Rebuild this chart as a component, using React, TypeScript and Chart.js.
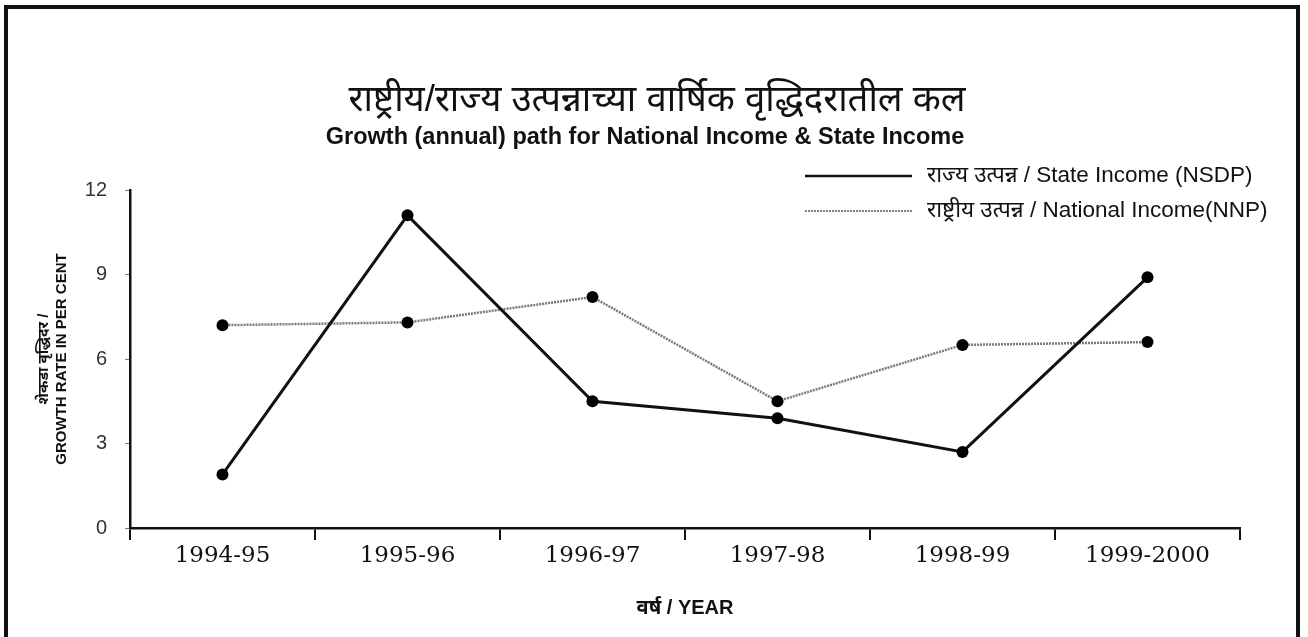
import React, { useEffect, useRef } from "react";
import { Chart, registerables } from "chart.js";

Chart.register(...registerables);

// ---- data ----
const categories = ["1994-95", "1995-96", "1996-97", "1997-98", "1998-99", "1999-2000"];
const stateIncome = [1.9, 11.1, 4.5, 3.9, 2.7, 8.9];
const nationalIncome = [7.2, 7.3, 8.2, 4.5, 6.5, 6.6];
const yTickValues = [0, 3, 6, 9, 12];

const titleText = "राष्ट्रीय/राज्य उत्पन्नाच्या वार्षिक वृद्धिदरातील कल";
const subtitleText = "Growth (annual) path for National Income & State Income";
const seriesLabels = [
  "राज्य उत्पन्न / State Income (NSDP)",
  "राष्ट्रीय उत्पन्न / National Income(NNP)",
];
const yTitleLines = ["शेकडा वृद्धिदर /", "GROWTH RATE IN PER CENT"];
const xTitleText = "वर्ष / YEAR";

const SANS = '"Liberation Sans", Arial, "Noto Sans", sans-serif';
const SERIF = '"DejaVu Serif", "Liberation Serif", serif';

const headingsPlugin = {
  id: "headings",
  afterDraw(chart: any) {
    const ctx = chart.ctx as CanvasRenderingContext2D;
    ctx.save();
    ctx.textBaseline = "middle";
    ctx.textAlign = "center";
    ctx.fillStyle = "#111";
    ctx.font = `normal 36.5px ${SANS}`;
    ctx.fillText(titleText, 657, 101);
    ctx.font = `bold 23.5px ${SANS}`;
    ctx.fillText(subtitleText, 645, 138);

    // legend
    const rows = [176, 211];
    chart.data.datasets.forEach((ds: any, i: number) => {
      const y = rows[i];
      ctx.save();
      ctx.strokeStyle = i === 0 ? "#111" : "#555";
      ctx.lineWidth = i === 0 ? 2.5 : 1.5;
      ctx.setLineDash(ds.borderDash || []);
      ctx.beginPath();
      ctx.moveTo(805, y);
      ctx.lineTo(912, y);
      ctx.stroke();
      ctx.restore();
      ctx.textAlign = "left";
      ctx.fillStyle = "#111";
      ctx.font = `normal 22.5px ${SANS}`;
      ctx.fillText(ds.label, 927, y);
    });
    ctx.restore();
  },
};

export default function App() {
  const canvasRef = useRef<HTMLCanvasElement | null>(null);

  useEffect(() => {
    const canvas = canvasRef.current;
    if (!canvas) return;
    const chart = new Chart(canvas, {
      type: "line",
      data: {
        labels: categories,
        datasets: [
          {
            label: seriesLabels[0],
            data: stateIncome,
            borderColor: "#111",
            borderWidth: 3,
            pointRadius: 6,
            pointBackgroundColor: "#000",
            pointBorderColor: "#000",
            pointBorderWidth: 0,
            tension: 0,
            fill: false,
          },
          {
            label: seriesLabels[1],
            data: nationalIncome,
            borderColor: "#7a7a7a",
            borderWidth: 2.5,
            borderDash: [2, 1],
            pointRadius: 6,
            pointBackgroundColor: "#000",
            pointBorderColor: "#000",
            pointBorderWidth: 0,
            tension: 0,
            fill: false,
          },
        ],
      },
      options: {
        animation: false,
        responsive: true,
        maintainAspectRatio: false,
        layout: { padding: { top: 190, left: 0, right: 68, bottom: 0 } },
        plugins: {
          legend: { display: false },
          title: { display: false },
          tooltip: { enabled: false },
        },
        scales: {
          x: {
            type: "category",
            offset: true,
            grid: {
              display: true,
              offset: true,
              drawOnChartArea: false,
              drawTicks: true,
              tickLength: 12,
              color: "#111",
              lineWidth: 2,
            },
            border: { display: true, color: "#111", width: 2.5 },
            ticks: {
              color: "#111",
              padding: 2,
              font: { family: SERIF, size: 23 },
              maxRotation: 0,
              autoSkip: false,
            },
            title: {
              display: true,
              text: xTitleText,
              color: "#111",
              font: { family: SANS, size: 20, weight: "bold" },
              padding: { top: 0, bottom: 17 },
            },
            afterFit(scale: any) {
              scale.height = 109;
            },
          },
          y: {
            min: 0,
            max: 12,
            afterBuildTicks(scale: any) {
              scale.ticks = yTickValues.map((v) => ({ value: v }));
            },
            grid: {
              display: true,
              drawOnChartArea: false,
              drawTicks: true,
              tickLength: 5,
              color: "#777",
              lineWidth: 1,
            },
            border: { display: true, color: "#111", width: 2.5 },
            ticks: {
              color: "#333",
              padding: 18,
              font: { family: SANS, size: 20 },
            },
            title: {
              display: true,
              text: yTitleLines,
              color: "#111",
              font: { family: SANS, size: 15, weight: "bold" },
              padding: { top: 35, bottom: 0 },
            },
            afterFit(scale: any) {
              scale.width = 130;
            },
          },
        },
      },
      plugins: [headingsPlugin],
    });
    return () => chart.destroy();
  }, []);

  return (
    <>
      <div
        style={{
          position: "fixed",
          left: 0,
          top: 0,
          width: 1308,
          height: 637,
          background: "#fff",
        }}
      >
        <canvas ref={canvasRef} />
      </div>
      <div
        style={{
          position: "fixed",
          left: 4,
          top: 5,
          width: 1296,
          height: 700,
          border: "4px solid #111",
          boxSizing: "border-box",
          pointerEvents: "none",
        }}
      />
    </>
  );
}
